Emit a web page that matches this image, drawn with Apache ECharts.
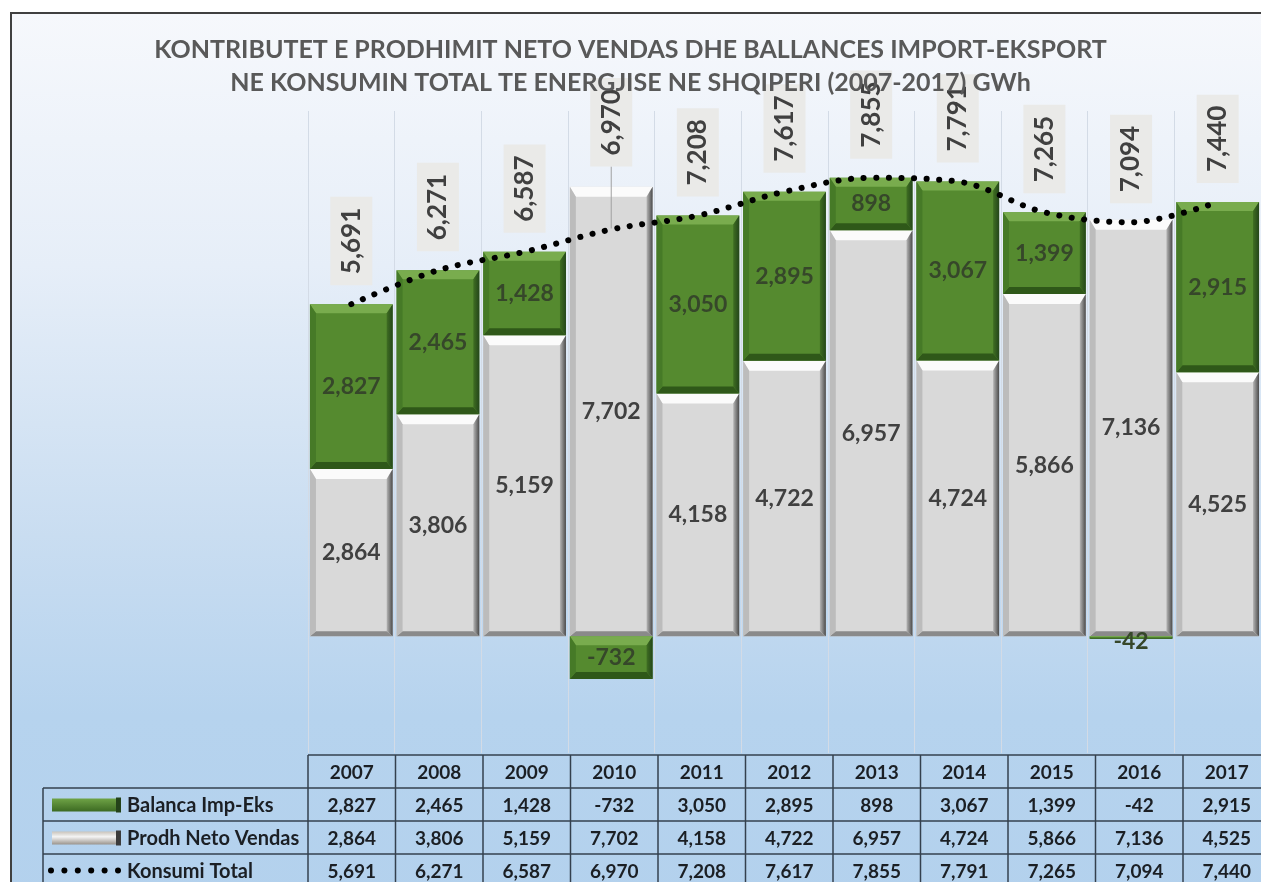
<!DOCTYPE html>
<html>
<head>
<meta charset="utf-8">
<script src="https://cdn.jsdelivr.net/npm/echarts@6/dist/echarts.min.js"></script>
<style>
  html, body { margin: 0; padding: 0; background: #fff; }
  #wrap { position: relative; width: 1261px; height: 882px; overflow: hidden; background: #fff; }
  #frame {
    position: absolute; left: 10px; top: 12px; width: 1300px; height: 900px;
    border: 2px solid #404040;
    background: linear-gradient(to bottom, #f6f8fc 0%, #e6eef8 28%, #c9ddf1 58%, #b6d3ee 78%, #b3d1ed 100%);
  }
  #chart { position: absolute; left: 0; top: 0; width: 1261px; height: 882px; }
</style>
</head>
<body>
<div id="wrap">
  <div id="frame"></div>
  <div id="chart"></div>
</div>
<script>
  // te dhenat
  var years = ['2007', '2008', '2009', '2010', '2011', '2012', '2013', '2014', '2015', '2016', '2017'];
  var balanca = [2827, 2465, 1428, -732, 3050, 2895, 898, 3067, 1399, -42, 2915];
  var prodh = [2864, 3806, 5159, 7702, 4158, 4722, 6957, 4724, 5866, 7136, 4525];
  var konsumi = [5691, 6271, 6587, 6970, 7208, 7617, 7855, 7791, 7265, 7094, 7440];
  var rowNames = ['Balanca Imp-Eks', 'Prodh Neto Vendas', 'Konsumi Total'];

  var GRID_LEFT = 308, GRID_W = 962.5, GRID_TOP = 111, GRID_H = 642;
  var TBL_TOP = 755, ROW_H = 33, LBL_LEFT = 43;
  var FONT = 'Lato, "Open Sans", sans-serif';

  function fmt(v) { return v.toLocaleString('en-US'); }

  // stacking like excel: positive on top of gray, negative below zero
  var grayData = prodh.map(function (v, i) { return [i, 0, v, v]; });
  var greenData = balanca.map(function (v, i) {
    return v >= 0 ? [i, prodh[i], prodh[i] + v, v] : [i, 0, v, v];
  });
  // etiketa e 2010 ngrihet me lart, me vize lidhese
  var lineData = konsumi.map(function (v, i) {
    if (i === 3) return { value: v, label: { distance: 62 }, labelLine: { show: true } };
    return v;
  });

  var grayStyle = {
    face: '#d9d9d9', top: '#fbfbfb', left: '#bcbcbc', bottom: '#8a8a8a',
    right: ['#b5b5b5', '#4a4a4a'], text: '#404040', bt: 10, bs: 6, bb: 5
  };
  var greenStyle = {
    face: '#558a2f', top: '#79ac4e', left: '#467a27', bottom: '#2f5819',
    right: ['#3f6e22', '#24461a'], text: '#36472a', bt: 9, bs: 6, bb: 7
  };

  function bevel(st) {
    return function (params, api) {
      var i = api.value(0);
      var a = api.coord([i, api.value(1)]);
      var b = api.coord([i, api.value(2)]);
      var w = api.size([1, 0])[0] * 0.955;
      var x = a[0] - w / 2;
      var top = Math.min(a[1], b[1]), bot = Math.max(a[1], b[1]);
      var h = bot - top;
      var bt = Math.min(st.bt, h * 0.4), bb = Math.min(st.bb, h * 0.4), bs = Math.min(st.bs, h * 0.4);
      var children = [
        { type: 'rect', shape: { x: x, y: top, width: w, height: h }, style: { fill: st.face } },
        { type: 'polygon', shape: { points: [[x, top], [x + w, top], [x + w - bs, top + bt], [x + bs, top + bt]] }, style: { fill: st.top } },
        { type: 'polygon', shape: { points: [[x, bot], [x + w, bot], [x + w - bs, bot - bb], [x + bs, bot - bb]] }, style: { fill: st.bottom } },
        { type: 'polygon', shape: { points: [[x, top], [x + bs, top + bt], [x + bs, bot - bb], [x, bot]] }, style: { fill: st.left } },
        { type: 'polygon', shape: { points: [[x + w, top], [x + w - bs, top + bt], [x + w - bs, bot - bb], [x + w, bot]] },
          style: { fill: { type: 'linear', x: 0, y: 0, x2: 1, y2: 0, colorStops: [{ offset: 0, color: st.right[0] }, { offset: 1, color: st.right[1] }] } } },
        { type: 'text', x: a[0], y: (top + bot) / 2 + (h < 6 ? 4 : 0),
          style: { text: fmt(api.value(3)), fill: st.text, font: 'bold 23px ' + FONT, align: 'center', verticalAlign: 'middle', textAlign: 'center', textVerticalAlign: 'middle' } }
      ];
      return { type: 'group', children: children };
    };
  }

  // tabela e te dhenave poshte grafikut
  var graphics = [];
  var colW = GRID_W / years.length;
  var right = GRID_LEFT + GRID_W;
  var lineCol = '#34404e';
  function hline(y, x1, x2) { graphics.push({ type: 'line', shape: { x1: x1, y1: y, x2: x2, y2: y }, style: { stroke: lineCol, lineWidth: 1.5 } }); }
  function vline(x, y1, y2) { graphics.push({ type: 'line', shape: { x1: x, y1: y1, x2: x, y2: y2 }, style: { stroke: lineCol, lineWidth: 1.5 } }); }
  function txt(x, y, s, align, size) {
    graphics.push({ type: 'text', x: x, y: y, style: { text: s, font: 'bold ' + size + 'px ' + FONT, fill: '#1b1f24', align: align, verticalAlign: 'middle', textAlign: align, textVerticalAlign: 'middle' } });
  }
  hline(TBL_TOP, GRID_LEFT, right);
  for (var r = 1; r <= 3; r++) hline(TBL_TOP + ROW_H * r, LBL_LEFT, right);
  vline(LBL_LEFT, TBL_TOP + ROW_H, 900);
  for (var c = 0; c <= years.length; c++) vline(GRID_LEFT + colW * c, TBL_TOP, 900);
  var rows = [balanca, prodh, konsumi];
  years.forEach(function (yr, i) {
    var cx = GRID_LEFT + colW * (i + 0.5);
    txt(cx, TBL_TOP + ROW_H / 2 + 1, yr, 'center', 19);
    rows.forEach(function (arr, k) { txt(cx, TBL_TOP + ROW_H * (k + 1.5) + 1, fmt(arr[i]), 'center', 19); });
  });
  rowNames.forEach(function (n, k) { txt(127, TBL_TOP + ROW_H * (k + 1.5) + 1, n, 'left', 20); });
  // celesat e legjendes
  var ky1 = TBL_TOP + ROW_H * 1.5;
  graphics.push({ type: 'rect', shape: { x: 52, y: ky1 - 6, width: 68, height: 13 },
    style: { fill: { type: 'linear', x: 0, y: 0, x2: 0, y2: 1, colorStops: [{ offset: 0, color: '#6fa346' }, { offset: 1, color: '#3c6a22' }] } } });
  graphics.push({ type: 'rect', shape: { x: 116, y: ky1 - 7, width: 5, height: 15 }, style: { fill: '#24421a' } });
  var ky2 = TBL_TOP + ROW_H * 2.5;
  graphics.push({ type: 'rect', shape: { x: 52, y: ky2 - 6, width: 68, height: 13 },
    style: { fill: { type: 'linear', x: 0, y: 0, x2: 0, y2: 1, colorStops: [{ offset: 0, color: '#c9c3bb' }, { offset: 0.4, color: '#f4f4f4' }, { offset: 1, color: '#9a948c' }] } } });
  graphics.push({ type: 'rect', shape: { x: 116, y: ky2 - 7, width: 5, height: 15 }, style: { fill: '#3b3b3b' } });
  var ky3 = TBL_TOP + ROW_H * 3.5;
  for (var d = 0; d < 6; d++) graphics.push({ type: 'circle', shape: { cx: 51 + d * 13.4, cy: ky3, r: 3 }, style: { fill: '#000' } });

  var chart = echarts.init(document.getElementById('chart'), null, { renderer: 'canvas' });
  chart.setOption({
    animation: false,
    title: {
      text: 'KONTRIBUTET E PRODHIMIT NETO VENDAS DHE BALLANCES IMPORT-EKSPORT\nNE KONSUMIN TOTAL TE ENERGJISE NE SHQIPERI (2007-2017) GWh',
      left: 'center', top: 28,
      textStyle: { color: '#595959', fontFamily: FONT, fontWeight: 'bold', fontSize: 25, lineHeight: 33, align: 'center' }
    },
    grid: { left: GRID_LEFT, top: GRID_TOP, width: GRID_W, height: GRID_H },
    xAxis: {
      type: 'category', data: years,
      axisLine: { show: false }, axisTick: { show: false }, axisLabel: { show: false },
      splitLine: { show: true, lineStyle: { color: '#d3dbe6', width: 1 } }
    },
    yAxis: { type: 'value', min: -2000, max: 9000, show: false, splitLine: { show: false } },
    graphic: graphics,
    series: [
      { name: 'Prodh Neto Vendas', type: 'custom', renderItem: bevel(grayStyle), data: grayData, encode: { x: 0, y: [1, 2] }, z: 2 },
      { name: 'Balanca Imp-Eks', type: 'custom', renderItem: bevel(greenStyle), data: greenData, encode: { x: 0, y: [1, 2] }, z: 2 },
      {
        name: 'Konsumi Total', type: 'line', data: lineData, smooth: 0.35, z: 5,
        symbol: 'circle', symbolSize: 2, showSymbol: true,
        itemStyle: { color: 'rgba(0,0,0,0)' },
        lineStyle: { color: '#000', width: 6, type: [0.1, 12.5], cap: 'round' },
        label: {
          show: true, position: 'top', distance: 18, rotate: 90, align: 'left', verticalAlign: 'middle',
          formatter: function (p) { return fmt(p.value); },
          color: '#404040', fontFamily: FONT, fontWeight: 'bold', fontSize: 26,
          backgroundColor: '#eaeae8', padding: [8, 11]
        },
        labelLine: { show: false, lineStyle: { color: '#a0a0a0', width: 1 } }
      }
    ]
  });
</script>
</body>
</html>
